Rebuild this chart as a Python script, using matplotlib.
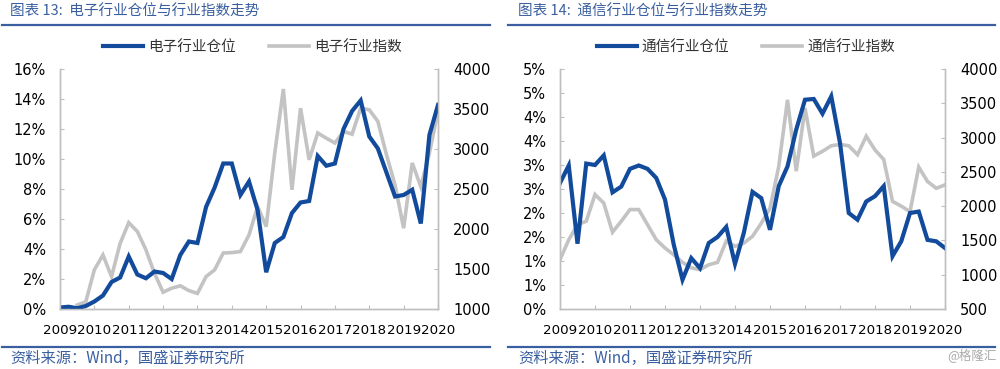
import math
import numpy as np
import matplotlib
matplotlib.use("Agg")
import matplotlib.pyplot as plt
from matplotlib.ticker import FuncFormatter, MultipleLocator

plt.rcParams['font.family'] = ['DejaVu Sans', 'Noto Sans CJK SC']

# ---------------- data (quarterly, 2009Q1 .. 2020Q1) ----------------
years = list(range(2009, 2021))
quarters = [2009 + i * 0.25 for i in range(45)]

elec_position = [0.1, 0.15, 0.05, 0.2, 0.5, 0.9, 1.8, 2.1, 3.5, 2.3, 2.05, 2.5,
                 2.4, 2.0, 3.6, 4.5, 4.4, 6.8, 8.1, 9.7, 9.7, 7.6, 8.5, 6.6,
                 2.45, 4.4, 4.8, 6.4, 7.1, 7.2, 10.2, 9.55, 9.7, 12.0, 13.2, 13.9,
                 11.5, 10.7, 9.1, 7.5, 7.6, 7.95, 5.7, 11.6, 13.6]
elec_index = [np.nan, np.nan, 1050, 1090, 1490, 1675, 1405, 1820, 2080, 1970, 1740, 1445,
              1210, 1260, 1290, 1230, 1195, 1405, 1490, 1700, 1705, 1718, 1925, 2280,
              2030, 2950, 3750, 2490, 3510, 2865, 3200, 3135, 3075, 3220, 3185, 3510,
              3490, 3345, 2930, 2550, 2010, 2825, 2530, 2950, 3470]

tele_position = [2.625, 2.99, 1.36, 3.03, 3.0, 3.2, 2.43, 2.55, 2.92, 2.99, 2.92, 2.73,
                 2.28, 1.34, 0.61, 1.06, 0.85, 1.375, 1.5, 1.71, 0.94, 1.58, 2.44, 2.31,
                 1.65, 2.56, 2.97, 3.74, 4.36, 4.375, 4.07, 4.43, 3.46, 2.0, 1.86, 2.24,
                 2.35, 2.56, 1.1, 1.41, 2.0, 2.03, 1.44, 1.41, 1.27]
tele_index = [1220, 1510, 1730, 1780, 2170, 2045, 1620, 1780, 1950, 1950, 1730, 1510,
              1390, 1290, 1180, 1100, 1075, 1145, 1180, 1490, 1415, 1460, 1560, 1750,
              1970, 2580, 3550, 2510, 3430, 2730, 2800, 2880, 2900, 2880, 2750, 3020,
              2820, 2680, 2070, 2000, 1920, 2570, 2360, 2260, 2310]

titles = ["图表 13:  电子行业仓位与行业指数走势", "图表 14:  通信行业仓位与行业指数走势"]
pos_labels = ["电子行业仓位", "通信行业仓位"]
idx_labels = ["电子行业指数", "通信行业指数"]
source = "资料来源：Wind，国盛证券研究所"

BLUE = "#124A9C"
GREY = "#C3C3C3"
SPINE = "#BFBFBF"
TITLE_BLUE = "#3A5FA0"

fig = plt.figure(figsize=(10, 3.69), dpi=100)

def half_up(v):
    return int(math.floor(v + 0.5 + 1e-9))

configs = [
    dict(left=0.060, width=0.378, pos=elec_position, idx=elec_index,
         ylim=(0, 16), ystep=2, fmt=lambda v, p: f"{half_up(v)}%",
         ylim2=(1000, 4000), legx=0.509),
    dict(left=0.560, width=0.385, pos=tele_position, idx=tele_index,
         ylim=(0, 5), ystep=0.5, fmt=lambda v, p: f"{half_up(v)}%",
         ylim2=(500, 4000), legx=0.483),
]

bottom = 60 / 369
height = 240 / 369

for k, c in enumerate(configs):
    ax = fig.add_axes([c['left'], bottom, c['width'], height])
    ax2 = ax.twinx()
    ax.set_zorder(ax2.get_zorder() + 1)
    ax.patch.set_visible(False)

    lg, = ax2.plot(quarters, c['idx'], color=GREY, lw=2.6, solid_joinstyle='miter')
    lb, = ax.plot(quarters, c['pos'], color=BLUE, lw=3.0, solid_joinstyle='miter')

    ax.set_xlim(2009, 2020)
    ax.set_ylim(*c['ylim'])
    ax2.set_ylim(*c['ylim2'])
    ax.yaxis.set_major_locator(MultipleLocator(c['ystep']))
    ax.yaxis.set_major_formatter(FuncFormatter(c['fmt']))
    ax2.yaxis.set_major_locator(MultipleLocator(500))
    ax.set_xticks(years)
    ax.set_xticklabels([str(y) for y in years])

    for a in (ax, ax2):
        a.spines['top'].set_visible(False)
        for s in ('left', 'right', 'bottom'):
            a.spines[s].set_color(SPINE)
            a.spines[s].set_linewidth(1.0)
    ax.tick_params(axis='y', direction='in', length=3, color=SPINE, labelsize=10.5, pad=10)
    ax2.tick_params(axis='y', direction='in', length=3, color=SPINE, labelsize=10.5, pad=11)
    ax.tick_params(axis='x', direction='in', length=3, color=SPINE, labelsize=9.6, pad=10.5)

    leg = ax.legend([lb, lg], [pos_labels[k], idx_labels[k]], ncol=2, frameon=False,
                    loc='center', bbox_to_anchor=(c['legx'], 1.09),
                    handlelength=2.75, handletextpad=0.35, columnspacing=2.25,
                    prop={'family': 'Noto Sans CJK SC', 'size': 10.5})
    for t in leg.get_texts():
        t.set_color("#333333")

    # title & decorations
    x0 = 0.010 if k == 0 else 0.518
    fig.text(x0, 1 - 12 / 369, titles[k], color=TITLE_BLUE, fontsize=10.5,
             family=['Noto Sans CJK SC', 'DejaVu Sans'], va='center', ha='left', style='italic')
    lx = (0.002, 0.490) if k == 0 else (0.508, 0.995)
    fig.add_artist(plt.Line2D(lx, [1 - 25 / 369] * 2, color=TITLE_BLUE, lw=1.6))
    fig.add_artist(plt.Line2D(lx, [1 - 347 / 369] * 2, color=TITLE_BLUE, lw=1.6))
    fig.text(x0, 1 - 358 / 369, source, color=TITLE_BLUE, fontsize=11,
             family=['Noto Sans CJK SC', 'DejaVu Sans'], va='center', ha='left', style='italic')

fig.text(0.997, 1 - 355 / 369, "@格隆汇", color="#AAAAAA", fontsize=9,
         family=['Noto Sans CJK SC', 'DejaVu Sans'], va='center', ha='right')

fig.savefig("out.png", dpi=100)
